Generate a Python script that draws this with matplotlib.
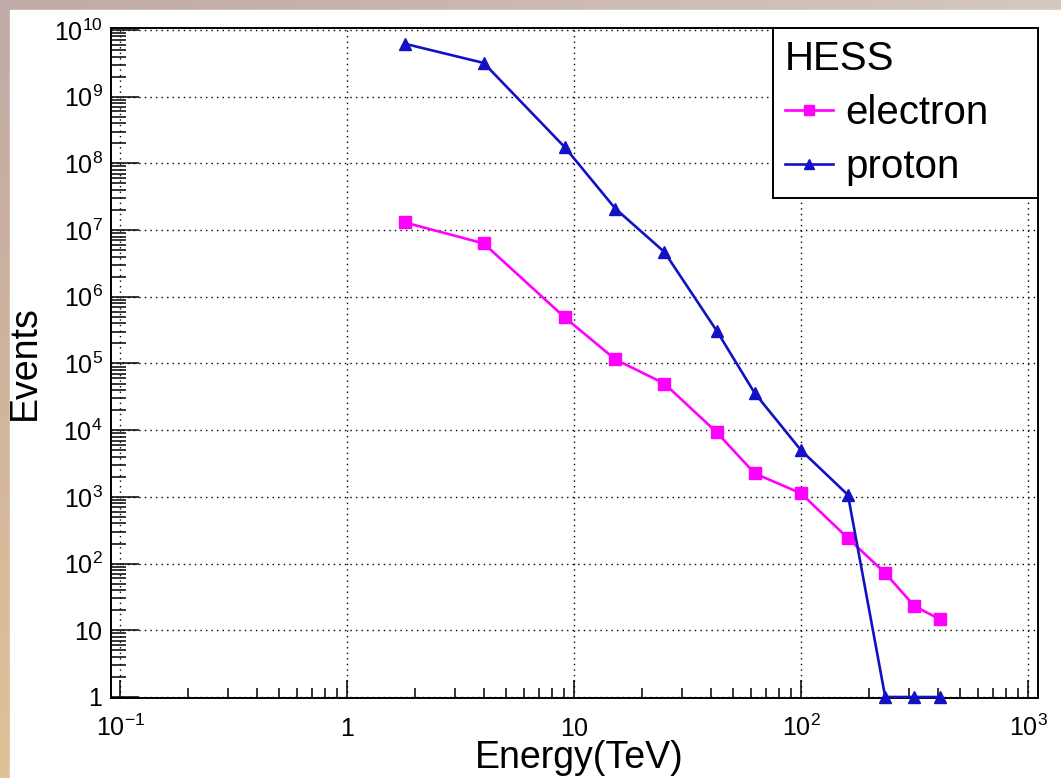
import numpy as np
import matplotlib
matplotlib.use('Agg')
import matplotlib.pyplot as plt
from matplotlib.ticker import FixedLocator, LogLocator, NullFormatter
from matplotlib.patches import Rectangle

# energies (TeV) shared by both series
energy = [1.8, 4.0, 9.1, 15.2, 25.0, 42.5, 62.5, 100, 161, 235, 316, 408]
electron = [1.3e7, 6.3e6, 4.9e5, 1.15e5, 5.0e4, 9.3e3, 2.25e3, 1.13e3, 240, 72, 23, 14.7]
proton = [6.2e9, 3.2e9, 1.75e8, 2.1e7, 4.7e6, 3.1e5, 3.6e4, 5.0e3, 1.07e3, 1, 1, 1]

xticks = [0.1, 1, 10, 100, 1000]
xticklabels = [r'$10^{-1}$', r'$1$', r'$10$', r'$10^{2}$', r'$10^{3}$']
yticks = [10.0 ** k for k in range(11)]
yticklabels = [r'$1$', r'$10$'] + [r'$10^{%d}$' % k for k in range(2, 11)]

plt.rcParams['font.family'] = ['Liberation Sans', 'DejaVu Sans']
plt.rcParams['mathtext.fontset'] = 'custom'
plt.rcParams['mathtext.rm'] = 'Liberation Sans'
plt.rcParams['mathtext.it'] = 'Liberation Sans:italic'
plt.rcParams['mathtext.bf'] = 'Liberation Sans:bold'

W, H = 1061, 778
fig = plt.figure(figsize=(W / 100, H / 100), dpi=100)

# gradient frame behind the white canvas
bg = fig.add_axes([0, 0, 1, 1], zorder=-10)
tl = np.array([192, 170, 165]) / 255
tr = np.array([214, 199, 192]) / 255
bl = np.array([224, 192, 150]) / 255
br = np.array([220, 200, 180]) / 255
u = np.linspace(0, 1, 64)[None, :, None]
v = np.linspace(0, 1, 64)[:, None, None]
img = (1 - v) * ((1 - u) * tl + u * tr) + v * ((1 - u) * bl + u * br)
bg.imshow(img, extent=[0, 1, 0, 1], aspect='auto', origin='upper')
bg.add_patch(Rectangle((10 / W, 0), 1, 1 - 10 / H, color='white'))
bg.set_xlim(0, 1)
bg.set_ylim(0, 1)
bg.axis('off')

ax = fig.add_axes([111 / W, 80 / H, (1038 - 111) / W, (698 - 28) / H])
ax.set_xscale('log')
ax.set_yscale('log')

blue = '#1212c4'
ax.plot(energy, electron, color='#ff00ff', lw=1.9, marker='s', ms=8.5,
        label='electron', zorder=3)
ax.plot(energy, proton, color=blue, lw=1.9, marker='^', ms=8.5,
        label='proton', zorder=3, clip_on=False)

ax.set_xlim(0.0912, 1107)
ax.set_ylim(0.966, 1.07e10)

ax.xaxis.set_major_locator(FixedLocator(xticks))
ax.set_xticklabels(xticklabels)
ax.xaxis.set_minor_locator(LogLocator(base=10, subs=np.arange(2, 10), numticks=20))
ax.xaxis.set_minor_formatter(NullFormatter())
ax.yaxis.set_major_locator(FixedLocator(yticks))
ax.set_yticklabels(yticklabels)
ax.yaxis.set_minor_locator(LogLocator(base=10, subs=np.arange(2, 10), numticks=30))
ax.yaxis.set_minor_formatter(NullFormatter())

ax.tick_params(axis='both', which='both', direction='in', width=1.1, colors='black',
               top=False, right=False)
ax.tick_params(axis='x', which='major', length=13, labelsize=18, pad=27)
ax.tick_params(axis='x', which='minor', length=7)
ax.tick_params(axis='y', which='major', length=20, labelsize=18, pad=6)
ax.tick_params(axis='y', which='minor', length=11)
for lbl in ax.get_xticklabels():
    lbl.set_va('baseline')

for s in ax.spines.values():
    s.set_linewidth(1.4)
    s.set_color('black')

ax.grid(True, which='major', color='black', lw=1.0, ls=(0, (1, 3)))

ax.set_xlabel('Energy(TeV)', fontsize=27)
ax.xaxis.label.set_va('baseline')
ax.xaxis.set_label_coords((579 - 111) / 927, -(768 - 698) / 670)
ax.set_ylabel('Events', fontsize=27, labelpad=8)

x0 = (773 - 111) / 927
leg = ax.legend(title='HESS', loc='upper left', bbox_to_anchor=(x0, 0, 1 - x0, 1),
                mode='expand', fontsize=29, title_fontsize=29, alignment='left',
                fancybox=False, framealpha=1, edgecolor='black',
                borderaxespad=0, borderpad=0.3, handlelength=1.2,
                handletextpad=0.3, labelspacing=0.4, markerscale=0.9)
leg.get_frame().set_linewidth(1.4)
leg.set_zorder(5)

fig.savefig('out.png', dpi=100)
